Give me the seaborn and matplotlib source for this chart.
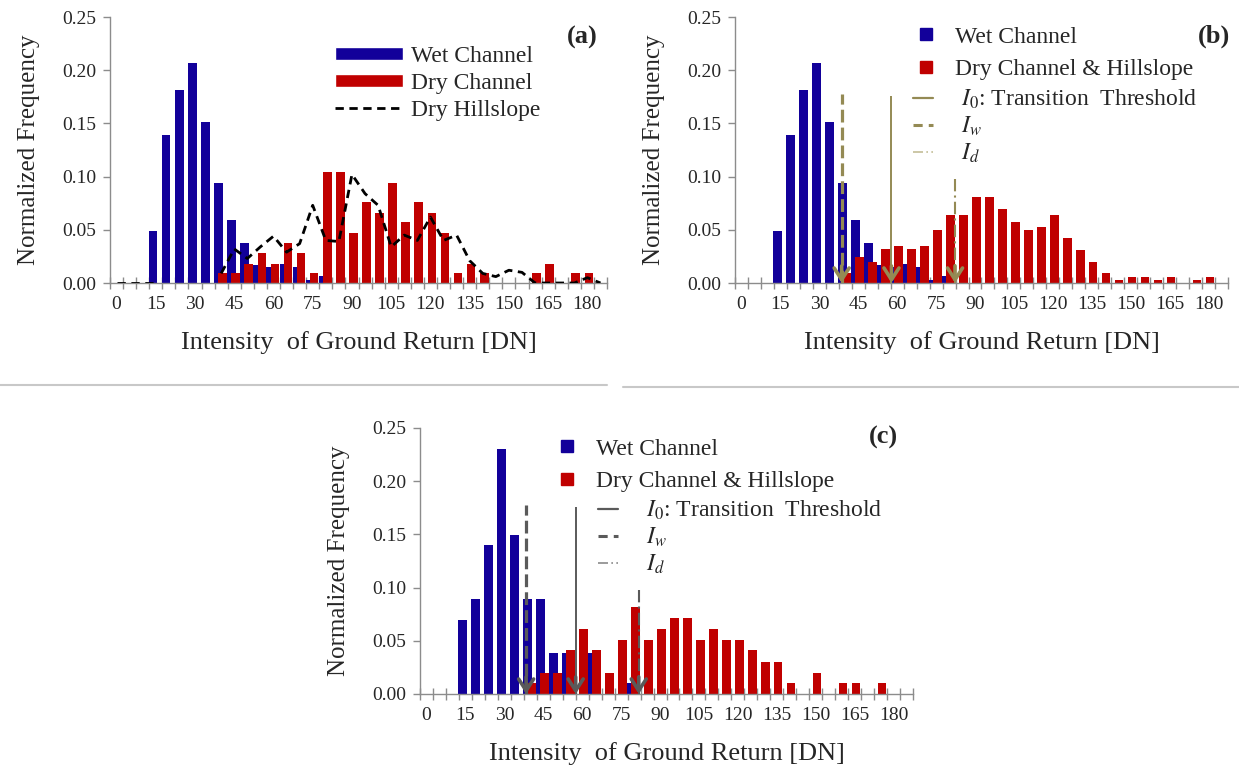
import numpy as np
import pandas as pd
import matplotlib
matplotlib.use("Agg")
import matplotlib.pyplot as plt
import seaborn as sns
from matplotlib.lines import Line2D
from matplotlib.patches import Patch
from matplotlib.ticker import FixedLocator

# ---------------- data ----------------
intensity_bins = list(range(0, 190, 5))           # 38 categories, 0..185 DN
x_tick_values = list(range(0, 181, 15))
x_tick_labels = [str(v) for v in x_tick_values]
y_tick_values = [0.00, 0.05, 0.10, 0.15, 0.20, 0.25]
y_tick_labels = ["0.00", "0.05", "0.10", "0.15", "0.20", "0.25"]

nan = np.nan
# panel (a) / (b): wet channel
wet_ab = [0, 0, 0, 0.049, 0.139, 0.181, 0.207, 0.151, 0.094, 0.059,
          0.038, 0.017, 0.015, 0.018, 0.015, 0.003, 0.007, 0, 0, 0,
          0, 0, 0, 0, 0, 0, 0, 0, 0, 0,
          0, 0, 0, 0, 0, 0, 0, 0]
# panel (a): dry channel
dry_channel_a = [0, 0, 0, 0, 0, 0, 0, 0, 0.009, 0.009,
                 0.018, 0.028, 0.018, 0.038, 0.028, 0.009, 0.104, 0.104, 0.047, 0.076,
                 0.066, 0.094, 0.057, 0.076, 0.066, 0.047, 0.009, 0.018, 0.009, 0,
                 0, 0, 0.009, 0.018, 0, 0.009, 0.009, 0]
# panel (a): dry hillslope (line, gap where no data)
dry_hillslope_a = [0, 0, 0, 0, nan, nan, nan, nan, 0.009, 0.032,
                   0.023, 0.034, 0.044, 0.029, 0.037, 0.073, 0.040, 0.039, 0.102, 0.084,
                   0.073, 0.034, 0.045, 0.040, 0.062, 0.040, 0.045, 0.021, 0.009, 0.006,
                   0.012, 0.010, 0, 0, 0, 0, 0.005, 0]
# panel (b): dry channel & hillslope
dry_b = [0, 0, 0, 0, 0, 0, 0, 0, 0.009, 0.024,
         0.020, 0.032, 0.035, 0.032, 0.035, 0.050, 0.064, 0.064, 0.081, 0.081,
         0.070, 0.057, 0.050, 0.053, 0.064, 0.042, 0.031, 0.020, 0.009, 0.003,
         0.006, 0.006, 0.003, 0.006, 0, 0.003, 0.006, 0]
# panel (c)
wet_c = [0, 0, 0, 0.070, 0.089, 0.140, 0.230, 0.149, 0.089, 0.089,
         0.039, 0.039, 0, 0.039, 0, 0, 0.010, 0, 0, 0,
         0, 0, 0, 0, 0, 0, 0, 0, 0, 0,
         0, 0, 0, 0, 0, 0, 0, 0]
dry_c = [0, 0, 0, 0, 0, 0, 0, 0, 0.010, 0.020,
         0.020, 0.041, 0.061, 0.041, 0.020, 0.051, 0.082, 0.051, 0.061, 0.071,
         0.071, 0.051, 0.061, 0.051, 0.051, 0.041, 0.030, 0.030, 0.010, 0,
         0.020, 0, 0.010, 0.010, 0, 0.010, 0, 0]

# thresholds (DN) and the heights of their marker lines
threshold_names = ["I0", "Iw", "Id"]
threshold_b = [57.8, 38.6, 82.3]
threshold_c = [57.5, 38.4, 81.8]
threshold_tops = [0.176, 0.178, 0.098]

# ---------------- style ----------------
BLUE = "#12009A"
RED = "#C00000"
OLIVE = "#948A54"
GRAY = "#5A5A5A"
AXIS = "#8C8C8C"
WET_SHIFT = -1.05
DRY_SHIFT = 0.55
BAR_W = 0.66

sns.set_theme(style="ticks")
plt.rcParams["font.family"] = ["Liberation Serif", "DejaVu Serif"]
plt.rcParams["mathtext.fontset"] = "stix"

W, H = 1239, 770
fig = plt.figure(figsize=(W / 100, H / 100), dpi=100)


def axes_px(l, t, r, b):
    return fig.add_axes([l / W, 1 - b / H, (r - l) / W, (b - t) / H])


def draw_bars(ax, wet, dry):
    bins = np.array(intensity_bins, dtype=float)
    dfw = pd.DataFrame({"x": bins + WET_SHIFT, "y": wet})
    dfd = pd.DataFrame({"x": bins + DRY_SHIFT, "y": dry})
    sns.barplot(data=dfw, x="x", y="y", native_scale=True, width=BAR_W,
                color=BLUE, saturation=1, errorbar=None, linewidth=0, ax=ax)
    sns.barplot(data=dfd, x="x", y="y", native_scale=True, width=BAR_W,
                color=RED, saturation=1, errorbar=None, linewidth=0, ax=ax)


def style_axes(ax, ylabelpad=16):
    ax.set_xlim(-2.5, 187.5)
    ax.set_ylim(0, 0.25)
    ax.set_xticks(x_tick_values)
    ax.set_xticklabels(x_tick_labels)
    ax.xaxis.set_minor_locator(FixedLocator(np.arange(-2.5, 188, 5)))
    ax.set_yticks(y_tick_values)
    ax.set_yticklabels(y_tick_labels)
    ax.tick_params(axis="x", which="major", length=0, pad=9, labelsize=14)
    ax.tick_params(axis="x", which="minor", direction="inout", length=8,
                   width=1, color=AXIS)
    ax.tick_params(axis="y", which="major", direction="out", length=5,
                   width=1, color=AXIS, labelsize=14, pad=5)
    for s in ["top", "right"]:
        ax.spines[s].set_visible(False)
    for s in ["left", "bottom"]:
        ax.spines[s].set_color(AXIS)
        ax.spines[s].set_linewidth(1)
    ax.set_xlabel("Intensity  of Ground Return [DN]", fontsize=19, labelpad=13)
    ax.set_ylabel("Normalized Frequency", fontsize=18, labelpad=ylabelpad)


def draw_thresholds(ax, xs, color):
    styles = {"I0": ("-", 1.4), "Iw": ((0, (4, 1.6)), 2.3), "Id": ((0, (6, 2, 1, 2)), 1.5)}
    for name, x, top in zip(threshold_names, xs, threshold_tops):
        ls, lw = styles[name]
        ax.vlines(x, 0, top, colors=color, linestyles=[ls], linewidth=lw, zorder=5)
        ax.annotate("", xy=(x, 0), xytext=(x, 0.016),
                    arrowprops=dict(arrowstyle="->,head_length=0.7,head_width=0.45",
                                    lw=2.6, color=color, shrinkA=0, shrinkB=0),
                    zorder=6)


FS_LEG = 17

# ---------------- panel (a) ----------------
ax_a = axes_px(110, 17, 607, 283)
draw_bars(ax_a, wet_ab, dry_channel_a)
hill = np.array(dry_hillslope_a, dtype=float)
dfh = pd.DataFrame({"x": intensity_bins, "y": hill,
                    "seg": np.cumsum(np.isnan(hill))}).dropna()
sns.lineplot(data=dfh, x="x", y="y", units="seg", estimator=None, color="black",
             linewidth=2, linestyle=(0, (3, 2)), ax=ax_a, legend=False, zorder=4)
style_axes(ax_a, ylabelpad=16)
ax_a.legend(handles=[Patch(facecolor=BLUE), Patch(facecolor=RED),
                     Line2D([], [], color="black", lw=2, ls=(0, (3, 2)))],
            labels=["Wet Channel", "Dry Channel", "Dry Hillslope"],
            loc="upper left", bbox_to_anchor=(335 / W, 1 - 46 / H),
            bbox_transform=fig.transFigure, frameon=False, borderpad=0,
            borderaxespad=0, handlelength=2.88, handleheight=0.5,
            handletextpad=0.34, labelspacing=0.25, fontsize=FS_LEG)
fig.text(582 / W, 1 - 37 / H, "(a)", fontsize=19, fontweight="bold",
         ha="center", va="center")

# ---------------- panel (b) ----------------
ax_b = axes_px(735, 17, 1228, 283)
draw_bars(ax_b, wet_ab, dry_b)
draw_thresholds(ax_b, threshold_b, OLIVE)
style_axes(ax_b, ylabelpad=16)
leg1 = ax_b.legend(handles=[Line2D([], [], marker="s", ls="none", ms=8, color=BLUE),
                            Line2D([], [], marker="s", ls="none", ms=8, color=RED)],
                   labels=["Wet Channel", "Dry Channel & Hillslope"],
                   loc="upper left", bbox_to_anchor=(917 / W, 1 - 26 / H),
                   bbox_transform=fig.transFigure, frameon=False, borderpad=0,
                   borderaxespad=0, handlelength=0.8, handletextpad=0.8,
                   labelspacing=0.47, fontsize=FS_LEG)
ax_b.add_artist(leg1)
ax_b.legend(handles=[Line2D([], [], color=OLIVE, lw=1.6, ls="-"),
                     Line2D([], [], color=OLIVE, lw=2.2, ls=(0, (3, 2))),
                     Line2D([], [], color="#C4BD97", lw=1.2, ls=(0, (6, 2, 1, 2)))],
            labels=[r"$I_0$: Transition  Threshold", r"$I_w$", r"$I_d$"],
            loc="upper left", bbox_to_anchor=(913 / W, 1 - 88 / H),
            bbox_transform=fig.transFigure, frameon=False, borderpad=0,
            borderaxespad=0, handlelength=0.85, handletextpad=1.2,
            labelspacing=0.16, fontsize=FS_LEG)
fig.text(1214 / W, 1 - 36 / H, "(b)", fontsize=19, fontweight="bold",
         ha="center", va="center")

# ---------------- panel (c) ----------------
ax_c = axes_px(420, 428, 913, 694)
draw_bars(ax_c, wet_c, dry_c)
draw_thresholds(ax_c, threshold_c, GRAY)
style_axes(ax_c, ylabelpad=16)
leg2 = ax_c.legend(handles=[Line2D([], [], marker="s", ls="none", ms=8, color=BLUE),
                            Line2D([], [], marker="s", ls="none", ms=8, color=RED)],
                   labels=["Wet Channel", "Dry Channel & Hillslope"],
                   loc="upper left", bbox_to_anchor=(558 / W, 1 - 438 / H),
                   bbox_transform=fig.transFigure, frameon=False, borderpad=0,
                   borderaxespad=0, handlelength=0.8, handletextpad=0.83,
                   labelspacing=0.47, fontsize=FS_LEG)
ax_c.add_artist(leg2)
ax_c.legend(handles=[Line2D([], [], color=GRAY, lw=1.6, ls="-"),
                     Line2D([], [], color=GRAY, lw=2.2, ls=(0, (3, 2))),
                     Line2D([], [], color="#8A8A8A", lw=1.2, ls=(0, (6, 2, 1, 2)))],
            labels=[r"$I_0$: Transition  Threshold", r"$I_w$", r"$I_d$"],
            loc="upper left", bbox_to_anchor=(598 / W, 1 - 499 / H),
            bbox_transform=fig.transFigure, frameon=False, borderpad=0,
            borderaxespad=0, handlelength=0.85, handletextpad=1.2,
            labelspacing=0.16, fontsize=FS_LEG)
fig.text(883 / W, 1 - 437 / H, "(c)", fontsize=19, fontweight="bold",
         ha="center", va="center")

# separator lines between the rows of panels
fig.add_artist(Line2D([0 / W, 607 / W], [1 - 385 / H, 1 - 385 / H],
                      transform=fig.transFigure, color="#C8C8C8", lw=1.5))
fig.add_artist(Line2D([623 / W, 1239 / W], [1 - 387 / H, 1 - 387 / H],
                      transform=fig.transFigure, color="#C8C8C8", lw=1.5))

fig.savefig("out.png", dpi=100)
